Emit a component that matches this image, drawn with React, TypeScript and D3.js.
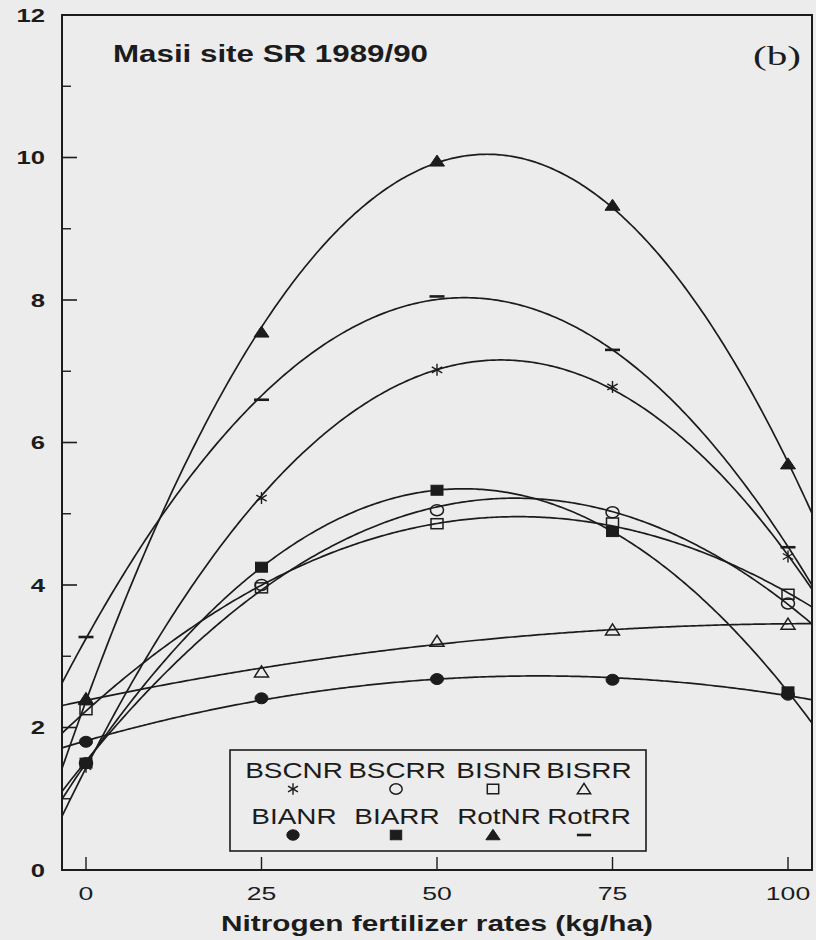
import React from "react";
import * as d3 from "d3";

// ---- data ----
const rates = [0, 25, 50, 75, 100];
const BSCNR = [1.45, 5.22, 7.02, 6.78, 4.4];
const BSCRR = [1.5, 4.0, 5.05, 5.02, 3.74];
const BISNR = [2.25, 3.96, 4.86, 4.87, 3.87];
const BISRR = [2.4, 2.78, 3.21, 3.37, 3.45];
const BIANR = [1.8, 2.41, 2.68, 2.67, 2.46];
const BIARR = [1.5, 4.25, 5.33, 4.75, 2.5];
const RotNR = [2.4, 7.55, 9.95, 9.33, 5.7];
const RotRR = [3.27, 6.6, 8.05, 7.3, 4.53];

const seriesNames = ["BSCNR", "BSCRR", "BISNR", "BISRR", "BIANR", "BIARR", "RotNR", "RotRR"];
const seriesValues = [BSCNR, BSCRR, BISNR, BISRR, BIANR, BIARR, RotNR, RotRR];
const seriesMarkers = ["asterisk", "circle", "square", "triangle", "dot", "filledSquare", "filledTriangle", "dash"];

const yTicks = [0, 2, 4, 6, 8, 10, 12];
const yMinorTicks = [1, 3, 5, 7, 9, 11];
const xTicks = [0, 25, 50, 75, 100];
const titleText = "Masii site SR 1989/90";
const panelText = "(b)";
const xAxisTitle = "Nitrogen fertilizer rates (kg/ha)";

// ---- layout ----
const W = 816, H = 940;
const frame = { left: 62, right: 812, top: 15, bottom: 870 };
const INK = "#1c1c1c";
const BG = "#ececec";

const x = d3.scaleLinear().domain([0, 100]).range([86, 788]);
const y = d3.scaleLinear().domain([0, 12]).range([870, 15]);

// least-squares quadratic fit (the regression curve drawn through each series)
function quadFit(xs: number[], ys: number[]) {
  const n = xs.length;
  let s0 = n, s1 = 0, s2 = 0, s3 = 0, s4 = 0, t0 = 0, t1 = 0, t2 = 0;
  for (let i = 0; i < n; i++) {
    const u = xs[i], v = ys[i];
    s1 += u; s2 += u * u; s3 += u ** 3; s4 += u ** 4;
    t0 += v; t1 += u * v; t2 += u * u * v;
  }
  const M = [
    [s0, s1, s2, t0],
    [s1, s2, s3, t1],
    [s2, s3, s4, t2],
  ];
  for (let c = 0; c < 3; c++) {
    let p = c;
    for (let r = c + 1; r < 3; r++) if (Math.abs(M[r][c]) > Math.abs(M[p][c])) p = r;
    [M[c], M[p]] = [M[p], M[c]];
    for (let r = 0; r < 3; r++) {
      if (r === c) continue;
      const f = M[r][c] / M[c][c];
      for (let k = c; k < 4; k++) M[r][k] -= f * M[c][k];
    }
  }
  const a0 = M[0][3] / M[0][0], a1 = M[1][3] / M[1][1], a2 = M[2][3] / M[2][2];
  return (u: number) => a0 + a1 * u + a2 * u * u;
}

function Marker({ kind, cx, cy, s = 1 }: { kind: string; cx: number; cy: number; s?: number }) {
  const sw = 1.5;
  switch (kind) {
    case "asterisk": {
      const r = 6 * s;
      const arms = [90, 30, 150].map((deg) => {
        const a = (deg * Math.PI) / 180;
        return (
          <line key={deg} x1={cx - r * Math.cos(a)} y1={cy - r * Math.sin(a)} x2={cx + r * Math.cos(a)} y2={cy + r * Math.sin(a)} stroke={INK} strokeWidth={1.4} />
        );
      });
      return <g>{arms}</g>;
    }
    case "circle":
      return <ellipse cx={cx} cy={cy} rx={6.5 * s} ry={5.5 * s} fill="none" stroke={INK} strokeWidth={sw} />;
    case "dot":
      return <ellipse cx={cx} cy={cy} rx={6.5 * s} ry={5.5 * s} fill={INK} stroke={INK} strokeWidth={1} />;
    case "square":
      return <rect x={cx - 6 * s} y={cy - 5 * s} width={12 * s} height={10 * s} fill="none" stroke={INK} strokeWidth={sw} />;
    case "filledSquare":
      return <rect x={cx - 6 * s} y={cy - 5 * s} width={12 * s} height={10 * s} fill={INK} stroke={INK} strokeWidth={1} />;
    case "triangle":
      return <path d={`M${cx},${cy - 6 * s}L${cx + 7 * s},${cy + 5 * s}L${cx - 7 * s},${cy + 5 * s}Z`} fill="none" stroke={INK} strokeWidth={sw} />;
    case "filledTriangle":
      return <path d={`M${cx},${cy - 6 * s}L${cx + 7.5 * s},${cy + 5 * s}L${cx - 7.5 * s},${cy + 5 * s}Z`} fill={INK} stroke={INK} strokeWidth={1} />;
    case "dash":
      return <line x1={cx - 7.5 * s} x2={cx + 7.5 * s} y1={cy} y2={cy} stroke={INK} strokeWidth={2.6} />;
    default:
      return null;
  }
}

function WText({ tx, ty, sx, children, anchor = "start", size, weight = "normal", family = "'Liberation Sans', Arial, Helvetica, sans-serif" }: any) {
  return (
    <text
      transform={`translate(${tx},${ty}) scale(${sx},1)`}
      textAnchor={anchor}
      fontSize={size}
      fontWeight={weight}
      fontFamily={family}
      fill={INK}
    >
      {children}
    </text>
  );
}

export default function App() {
  const uMin = x.invert(frame.left);
  const uMax = x.invert(frame.right);
  const samples = d3.range(0, 301).map((i) => uMin + ((uMax - uMin) * i) / 300);
  const line = d3
    .line<[number, number]>()
    .x((d) => x(d[0]))
    .y((d) => y(d[1]));

  const fits = seriesValues.map((vals) => quadFit(rates, vals));

  // legend layout
  const legCols = [294, 397, 499, 589];
  const legSymX = [293, 396, 493, 584];
  const legRows = [778, 824];
  const legSymY = [789, 835];

  return (
    <svg width={W} height={H} style={{ position: "absolute", left: 0, top: 0 }}>
      <rect x={0} y={0} width={W} height={H} fill={BG} />
      <defs>
        <clipPath id="plotclip">
          <rect x={frame.left} y={frame.top} width={frame.right - frame.left} height={frame.bottom - frame.top} />
        </clipPath>
      </defs>

      {/* frame */}
      <rect x={frame.left} y={frame.top} width={frame.right - frame.left} height={frame.bottom - frame.top} fill="none" stroke={INK} strokeWidth={2} />

      {/* y ticks */}
      {yTicks.map((t) => (
        <g key={"yt" + t}>
          <line x1={frame.left} x2={frame.left + 15} y1={y(t)} y2={y(t)} stroke={INK} strokeWidth={1.6} />
          <WText tx={45} ty={y(t) + 6.5} sx={1.35} anchor="end" size={19} weight="bold">
            {t}
          </WText>
        </g>
      ))}
      {yMinorTicks.map((t) => (
        <line key={"ym" + t} x1={frame.left} x2={frame.left + 9} y1={y(t)} y2={y(t)} stroke={INK} strokeWidth={1.4} />
      ))}

      {/* x ticks */}
      {xTicks.map((t) => (
        <g key={"xt" + t}>
          <line x1={x(t)} x2={x(t)} y1={frame.bottom} y2={frame.bottom - 13} stroke={INK} strokeWidth={1.4} />
          <WText tx={x(t)} ty={900} sx={1.4} anchor="middle" size={19}>
            {t}
          </WText>
        </g>
      ))}

      {/* fitted curves */}
      <g clipPath="url(#plotclip)">
        {fits.map((f, i) => (
          <path
            key={"c" + i}
            d={line(samples.map((u) => [u, f(u)] as [number, number])) || ""}
            fill="none"
            stroke={INK}
            strokeWidth={1.7}
          />
        ))}
      </g>

      {/* observed points */}
      {seriesValues.map((vals, i) =>
        vals.map((v, j) => <Marker key={`m${i}-${j}`} kind={seriesMarkers[i]} cx={x(rates[j])} cy={y(v)} />)
      )}

      {/* title and panel label */}
      <text x={113} y={62} fontSize={23} fontWeight="bold" fontFamily="'Liberation Sans', Arial, sans-serif" fill={INK} textLength={315} lengthAdjust="spacingAndGlyphs">
        {titleText}
      </text>
      <text x={753} y={65} fontSize={28} fontFamily="'Liberation Serif', 'Times New Roman', serif" fill={INK} textLength={48} lengthAdjust="spacingAndGlyphs">
        {panelText}
      </text>

      {/* x axis title */}
      <text x={221} y={931} fontSize={22} fontWeight="bold" fontFamily="'Liberation Sans', Arial, sans-serif" fill={INK} textLength={432} lengthAdjust="spacingAndGlyphs">
        {xAxisTitle}
      </text>

      {/* legend */}
      <rect x={230} y={750} width={416} height={101} fill="none" stroke={INK} strokeWidth={1.6} />
      {seriesNames.map((name, i) => {
        const r = Math.floor(i / 4), c = i % 4;
        return (
          <g key={"lg" + i}>
            <WText tx={legCols[c]} ty={legRows[r]} sx={1.27} anchor="middle" size={22}>
              {name}
            </WText>
            <Marker kind={seriesMarkers[i]} cx={legSymX[c]} cy={legSymY[r]} s={0.95} />
          </g>
        );
      })}
    </svg>
  );
}
